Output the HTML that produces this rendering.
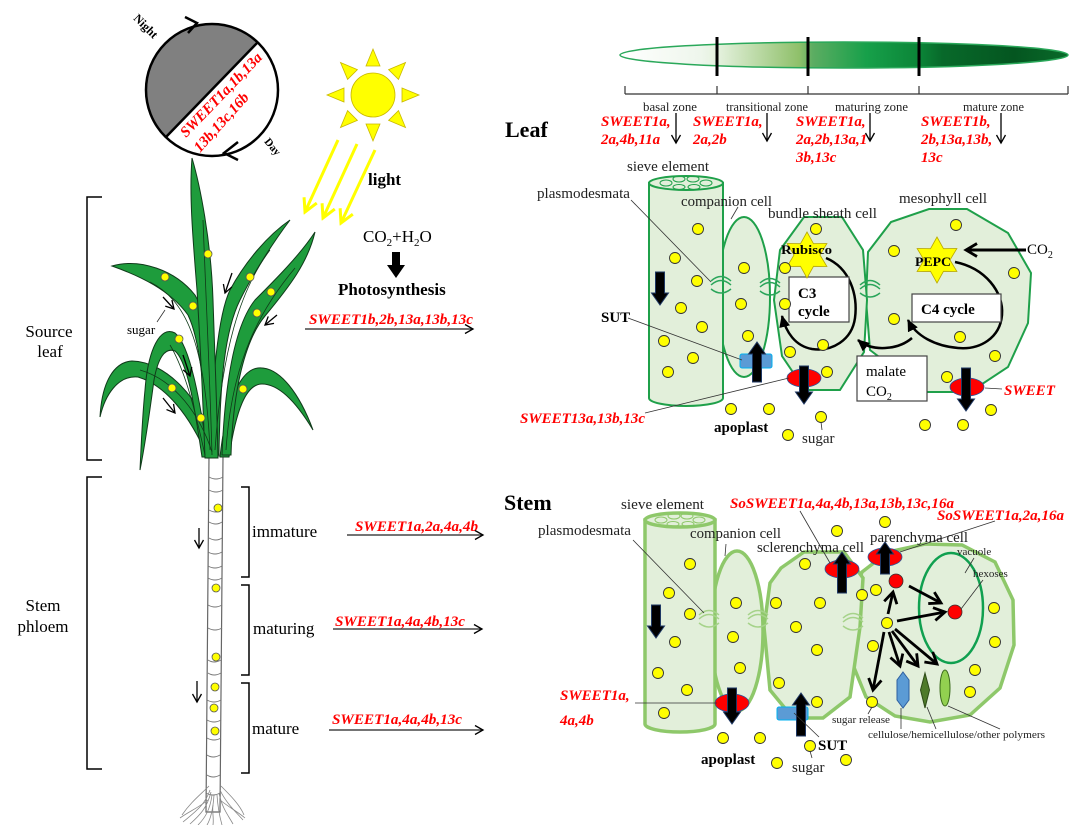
<!DOCTYPE html>
<html><head><meta charset="utf-8"><style>
html,body{margin:0;padding:0;background:#fff;}
svg{display:block;font-family:"Liberation Serif",serif;}
</style></head><body>
<svg width="1080" height="825" viewBox="0 0 1080 825" xmlns="http://www.w3.org/2000/svg">
<defs>
<marker id="mo" markerUnits="userSpaceOnUse" markerWidth="12" markerHeight="12" refX="10" refY="6" orient="auto"><path d="M2,1.5 L10,6 L2,10.5" fill="none" stroke="#000" stroke-width="1.3"/></marker>
<marker id="my" markerUnits="userSpaceOnUse" markerWidth="18" markerHeight="18" refX="15" refY="9" orient="auto"><path d="M2,2 L15,9 L2,16" fill="none" stroke="#ffff00" stroke-width="3"/></marker>
<marker id="mb" markerUnits="userSpaceOnUse" markerWidth="16" markerHeight="16" refX="13" refY="8" orient="auto"><path d="M2,1.5 L13,8 L2,14.5" fill="none" stroke="#000" stroke-width="2.8"/></marker>
<marker id="mf" markerUnits="userSpaceOnUse" markerWidth="14" markerHeight="14" refX="11" refY="7" orient="auto"><path d="M0,1.5 L12,7 L0,12.5 Z" fill="#000"/></marker>
<linearGradient id="lg" gradientUnits="userSpaceOnUse" x1="620" y1="0" x2="1068" y2="0">
<stop offset="0" stop-color="#ffffff"/><stop offset="0.18" stop-color="#eef6ec"/><stop offset="0.22" stop-color="#e4f1dd"/><stop offset="0.4" stop-color="#8fc06a"/><stop offset="0.43" stop-color="#5cad62"/><stop offset="0.55" stop-color="#17a04a"/><stop offset="0.67" stop-color="#0b8437"/><stop offset="0.72" stop-color="#08692a"/><stop offset="0.88" stop-color="#045620"/><stop offset="1" stop-color="#0a6a2a"/>
</linearGradient>
</defs>

<!-- ================= LEFT: day/night circle ================= -->
<circle cx="212" cy="90" r="66" fill="#fff"/>
<path d="M258,42 A66,66 0 0,0 166,137 Z" fill="#808080"/>
<line x1="258" y1="42" x2="166" y2="137" stroke="#000" stroke-width="2.5"/>
<circle cx="212" cy="90" r="66" fill="none" stroke="#000" stroke-width="2.5"/>
<path d="M185,17 L197,23 L188,33" fill="none" stroke="#000" stroke-width="2.5"/>
<path d="M238,142 L224,153 L238,160" fill="none" stroke="#000" stroke-width="2.5"/>
<text transform="translate(143,29) rotate(45)" text-anchor="middle" font-size="12" font-weight="bold">Night</text>
<text transform="translate(270,149) rotate(50)" text-anchor="middle" font-size="11" font-weight="bold">Day</text>
<g fill="#ff0000" font-size="15" font-weight="bold" font-style="italic">
<text transform="translate(186,138) rotate(-46)">SWEET1a,1b,13a</text>
<text transform="translate(200,153) rotate(-48)">13b,13c,16b</text>
</g>

<!-- sun -->
<g fill="#ffff00" stroke="#c9b800" stroke-width="0.8">
<polygon points="373,49 366,66 380,66"/>
<polygon points="373,141 366,124 380,124"/>
<polygon points="419,95 402,88 402,102"/>
<polygon points="327,95 344,88 344,102"/>
<polygon points="405.5,62.5 398.5,79.4 388.6,69.6"/>
<polygon points="405.5,127.5 388.6,120.4 398.5,110.6"/>
<polygon points="340.5,127.5 357.4,120.4 347.6,110.6"/>
<polygon points="340.5,62.5 347.6,79.4 357.4,69.6"/>
<circle cx="373" cy="95" r="22"/>
</g>
<g stroke="#ffff00" stroke-width="3">
<line x1="338" y1="140" x2="305" y2="212" marker-end="url(#my)"/>
<line x1="357" y1="144" x2="323" y2="218" marker-end="url(#my)"/>
<line x1="375" y1="150" x2="341" y2="223" marker-end="url(#my)"/>
</g>
<text x="368" y="185" font-size="17" font-weight="bold">light</text>
<text x="363" y="242" font-size="17">CO<tspan font-size="11" dy="4">2</tspan><tspan dy="-4">+H</tspan><tspan font-size="11" dy="4">2</tspan><tspan dy="-4">O</tspan></text>
<path d="M392,252 H400 V265 H405 L396,278 L387,265 H392 Z" fill="#000"/>
<text x="338" y="295" font-size="17" font-weight="bold">Photosynthesis</text>

<!-- source leaf label/arrow -->
<text x="309" y="324" font-size="15" font-weight="bold" font-style="italic" fill="#ff0000" textLength="164" lengthAdjust="spacingAndGlyphs">SWEET1b,2b,13a,13b,13c</text>
<line x1="305" y1="329" x2="473" y2="329" stroke="#222" stroke-width="1.3" marker-end="url(#mo)"/>

<!-- brackets -->
<g fill="none" stroke="#000" stroke-width="1.5">
<path d="M102,197 H87 V460 H102"/>
<path d="M102,477 H87 V769 H102"/>
<path d="M241,487 H249 V577 H241"/>
<path d="M241,585 H249 V675 H241"/>
<path d="M241,683 H249 V773 H241"/>
</g>
<g font-size="17" text-anchor="middle">
<text x="49" y="337">Source</text>
<text x="50" y="357">leaf</text>
<text x="43" y="611">Stem</text>
<text x="43" y="632">phloem</text>
</g>
<g font-size="17">
<text x="252" y="537">immature</text>
<text x="253" y="634">maturing</text>
<text x="252" y="734">mature</text>
</g>
<g font-size="15" font-weight="bold" font-style="italic" fill="#ff0000">
<text x="355" y="531" textLength="123" lengthAdjust="spacingAndGlyphs">SWEET1a,2a,4a,4b</text>
<text x="335" y="626" textLength="130" lengthAdjust="spacingAndGlyphs">SWEET1a,4a,4b,13c</text>
<text x="332" y="724" textLength="130" lengthAdjust="spacingAndGlyphs">SWEET1a,4a,4b,13c</text>
</g>
<g stroke="#222" stroke-width="1.3">
<line x1="347" y1="535" x2="483" y2="535" marker-end="url(#mo)"/>
<line x1="333" y1="629" x2="482" y2="629" marker-end="url(#mo)"/>
<line x1="329" y1="730" x2="483" y2="730" marker-end="url(#mo)"/>
</g>

<!-- stem of plant -->
<path d="M209,456 L223,456 L220,812 L206,812 Z" fill="#fff" stroke="#666" stroke-width="1.2"/>
<g fill="none" stroke="#777" stroke-width="1">
<path d="M209,477 Q216,481 223,477"/><path d="M209,490 Q216,494 223,490"/><path d="M209,510 Q216,514 222,510"/>
<path d="M209,522 Q216,526 222,522"/><path d="M209,538 Q216,542 222,538"/><path d="M208,552 Q215,556 222,552"/>
<path d="M208,566 Q215,570 222,566"/><path d="M208,578 Q215,582 222,578"/><path d="M208,605 Q215,609 222,605"/>
<path d="M208,628 Q215,632 222,628"/><path d="M208,660 Q214,664 221,660"/><path d="M208,673 Q214,677 221,673"/>
<path d="M207,700 Q214,704 221,700"/><path d="M207,720 Q214,724 221,720"/><path d="M207,738 Q214,742 221,738"/>
<path d="M207,755 Q213,759 220,755"/><path d="M207,775 Q213,779 220,775"/><path d="M206,793 Q213,797 220,793"/>
</g>
<g fill="none" stroke="#888" stroke-width="0.8">
<path d="M210,790 C205,805 195,812 183,822"/><path d="M211,792 C207,808 200,815 190,824"/>
<path d="M212,795 C210,810 205,818 198,825"/><path d="M214,795 C213,810 210,820 207,825"/>
<path d="M217,795 C218,810 220,818 222,825"/><path d="M219,793 C222,808 228,815 233,824"/>
<path d="M220,790 C226,803 236,812 243,820"/><path d="M209,786 C200,795 190,803 182,815"/>
<path d="M221,786 C230,795 240,805 244,815"/><path d="M208,800 C198,808 188,812 180,818"/>
<path d="M220,800 C230,808 238,812 245,818"/><path d="M213,805 C212,812 214,818 213,825"/>
</g>
<g fill="#ffff00" stroke="#555" stroke-width="0.8">
<circle cx="218" cy="508" r="4"/><circle cx="216" cy="588" r="4"/><circle cx="216" cy="657" r="4"/>
<circle cx="215" cy="687" r="4"/><circle cx="214" cy="708" r="4"/><circle cx="215" cy="731" r="4"/>
</g>
<g stroke="#000" stroke-width="1.3">
<line x1="199" y1="528" x2="199" y2="548" marker-end="url(#mo)"/>
<line x1="197" y1="681" x2="197" y2="702" marker-end="url(#mo)"/>
</g>

<!-- leaves -->
<g fill="#1e9c3c" stroke="#103a1a" stroke-width="1">
<path d="M100,417 C102,380 115,362 132,361 C165,362 200,395 218,452 L208,458 C190,415 165,385 138,377 C118,375 105,395 100,417 Z"/>
<path d="M220,457 C225,410 238,370 258,368 C280,366 300,395 313,430 C298,405 280,384 262,384 C246,384 236,410 229,457 Z"/>
<path d="M208,457 C200,400 190,345 175,333 C160,325 148,350 145,390 C142,420 141,450 140,470 C146,440 150,410 154,380 C158,358 165,347 175,351 C188,362 195,410 202,457 Z"/>
<path d="M112,266 C140,258 175,270 195,295 C210,320 213,380 214,455 L207,455 C205,390 200,340 188,315 C170,290 140,276 112,266 Z"/>
<path d="M315,232 C300,255 275,280 255,300 C235,325 225,380 222,455 L231,455 C233,390 245,340 265,316 C290,286 308,262 315,232 Z"/>
<path d="M290,220 C268,235 245,262 230,290 C218,315 212,380 210,455 L219,455 C220,380 225,330 240,300 C255,270 275,240 290,220 Z"/>
<path d="M192,158 C200,185 211,240 213,300 C215,360 217,410 218,458 L205,458 C203,400 200,340 197,290 C193,240 189,195 192,158 Z"/>
</g>
<g fill="none" stroke="#0f3a18" stroke-width="0.8">
<path d="M203,220 C206,300 210,380 212,455"/>
<path d="M150,282 C185,300 205,340 210,450"/>
<path d="M270,250 C240,290 222,350 215,450"/>
<path d="M295,268 C260,310 232,360 226,450"/>
<path d="M140,370 C175,380 200,415 212,452"/>
<path d="M170,345 C185,370 195,410 205,455"/>
</g>
<g fill="#ffff00" stroke="#555" stroke-width="0.8">
<circle cx="208" cy="254" r="4"/><circle cx="165" cy="277" r="4"/><circle cx="193" cy="306" r="4"/>
<circle cx="250" cy="277" r="4"/><circle cx="271" cy="292" r="4"/><circle cx="257" cy="313" r="4"/>
<circle cx="179" cy="339" r="4"/><circle cx="172" cy="388" r="4"/><circle cx="201" cy="418" r="4"/>
<circle cx="243" cy="389" r="4"/>
</g>
<g stroke="#000" stroke-width="1.3">
<line x1="163" y1="297" x2="174" y2="309" marker-end="url(#mo)"/>
<line x1="232" y1="273" x2="225" y2="293" marker-end="url(#mo)"/>
<line x1="277" y1="315" x2="265" y2="325" marker-end="url(#mo)"/>
<line x1="183" y1="355" x2="190" y2="376" marker-end="url(#mo)"/>
<line x1="163" y1="398" x2="175" y2="413" marker-end="url(#mo)"/>
</g>
<line x1="157" y1="322" x2="165" y2="310" stroke="#333" stroke-width="0.8"/>
<text x="127" y="334" font-size="13">sugar</text>

<!-- ================= TOP RIGHT: leaf zones ================= -->
<ellipse cx="844" cy="55" rx="224" ry="13" fill="url(#lg)" stroke="#2aa85a" stroke-width="1.5"/>
<g stroke="#000" stroke-width="3">
<line x1="717" y1="37" x2="717" y2="76"/><line x1="808" y1="37" x2="808" y2="76"/><line x1="919" y1="37" x2="919" y2="76"/>
</g>
<g stroke="#333" stroke-width="1.2" fill="none">
<line x1="625" y1="94" x2="1068" y2="94"/>
<line x1="625" y1="86" x2="625" y2="94"/><line x1="717" y1="86" x2="717" y2="94"/><line x1="808" y1="86" x2="808" y2="94"/>
<line x1="919" y1="86" x2="919" y2="94"/><line x1="1068" y1="86" x2="1068" y2="94"/>
</g>
<g font-size="12.5" fill="#222">
<text x="643" y="111" textLength="54" lengthAdjust="spacingAndGlyphs">basal zone</text>
<text x="726" y="111" textLength="82" lengthAdjust="spacingAndGlyphs">transitional zone</text>
<text x="835" y="111" textLength="73" lengthAdjust="spacingAndGlyphs">maturing zone</text>
<text x="963" y="111" textLength="61" lengthAdjust="spacingAndGlyphs">mature zone</text>
</g>
<text x="505" y="137" font-size="22" font-weight="bold">Leaf</text>
<g font-size="15" font-weight="bold" font-style="italic" fill="#ff0000">
<text x="601" y="126">SWEET1a,</text><text x="601" y="144">2a,4b,11a</text>
<text x="693" y="126">SWEET1a,</text><text x="693" y="144">2a,2b</text>
<text x="796" y="126">SWEET1a,</text><text x="796" y="144">2a,2b,13a,1</text><text x="796" y="162">3b,13c</text>
<text x="921" y="126">SWEET1b,</text><text x="921" y="144">2b,13a,13b,</text><text x="921" y="162">13c</text>
</g>
<g stroke="#000" stroke-width="1.3">
<line x1="676" y1="113" x2="676" y2="143" marker-end="url(#mo)"/>
<line x1="767" y1="113" x2="767" y2="141" marker-end="url(#mo)"/>
<line x1="870" y1="113" x2="870" y2="141" marker-end="url(#mo)"/>
<line x1="1001" y1="113" x2="1001" y2="143" marker-end="url(#mo)"/>
</g>

<!-- ================= LEAF CELL DIAGRAM ================= -->
<g fill="#e2efda" stroke="#1fa04a" stroke-width="2">
<polygon points="868,252 891,222 929,209 967,209 1008,233 1031,273 1028,323 1008,367 970,392 925,392 870,350 866,300"/>
<polygon points="804,217 842,217 863,250 867,300 864,352 840,390 805,390 782,356 774,300 780,250"/>
<ellipse cx="744" cy="297" rx="26" ry="80"/>
<path d="M649,183 V398 A37,8 0 0,0 723,398 V183 Z"/>
<ellipse cx="686" cy="183" rx="37" ry="7"/>
</g>
<g fill="none" stroke="#1fa04a" stroke-width="1">
<ellipse cx="666" cy="183" rx="6" ry="3"/><ellipse cx="679" cy="179" rx="6" ry="3"/><ellipse cx="693" cy="179" rx="6" ry="3"/>
<ellipse cx="706" cy="183" rx="6" ry="3"/><ellipse cx="679" cy="187" rx="6" ry="2.5"/><ellipse cx="694" cy="187" rx="6" ry="2.5"/>
</g>
<!-- plasmodesmata -->
<g fill="none" stroke="#2aa55a" stroke-width="1.5">
<path d="M711,281 Q721,272 731,281 M711,285 Q721,276 731,285 M711,289 Q721,297 731,289"/>
<path d="M760,283 Q770,274 780,283 M760,287 Q770,278 780,287 M760,291 Q770,299 780,291"/>
<path d="M860,285 Q870,276 880,285 M860,289 Q870,280 880,289 M860,293 Q870,301 880,293"/>
</g>
<!-- loops -->
<g fill="none" stroke="#000" stroke-width="2.5">
<path d="M826,258 C850,268 858,295 855,318 C852,340 832,352 812,349 C795,346 786,332 782,316" marker-end="url(#mf)"/>
<path d="M955,262 C985,268 1004,292 1002,315 C1000,338 980,350 958,348 C935,346 916,336 908,320" marker-end="url(#mf)"/>
<path d="M912,338 C898,350 872,352 858,340" marker-end="url(#mf)"/>
</g>
<line x1="1026" y1="250" x2="966" y2="250" stroke="#000" stroke-width="3" marker-end="url(#mb)"/>
<g fill="#fff" stroke="#444" stroke-width="1.2">
<rect x="789" y="277" width="60" height="45"/>
<rect x="912" y="294" width="89" height="28"/>
<rect x="857" y="356" width="70" height="45"/>
</g>
<g fill="#ffff00" stroke="#b8a800" stroke-width="0.8">
<polygon points="807,232 813.5,243.7 826.9,243.5 820,255 826.9,266.5 813.5,266.3 807,278 800.5,266.3 787.1,266.5 794,255 787.1,243.5 800.5,243.7"/>
<polygon points="937,237 943.5,248.7 956.9,248.5 950,260 956.9,271.5 943.5,271.3 937,283 930.5,271.3 917.1,271.5 924,260 917.1,248.5 930.5,248.7"/>
</g>
<g font-weight="bold" font-size="13">
<text x="781" y="254" textLength="51" lengthAdjust="spacingAndGlyphs">Rubisco</text>
<text x="915" y="266" textLength="36" lengthAdjust="spacingAndGlyphs">PEPC</text>
</g>
<g font-weight="bold" font-size="15">
<text x="798" y="298">C3</text><text x="798" y="316">cycle</text>
<text x="921" y="314">C4 cycle</text>
</g>
<text x="866" y="376" font-size="15">malate</text>
<text x="866" y="396" font-size="15">CO<tspan font-size="10" dy="4">2</tspan></text>
<text x="1027" y="254" font-size="15">CO<tspan font-size="10" dy="4">2</tspan></text>
<!-- transporters leaf -->
<rect x="740" y="354" width="32" height="14" rx="2" fill="#5b9bd5" stroke="#00b0f0" stroke-width="1"/>
<ellipse cx="804" cy="378" rx="17" ry="9" fill="#ff0000" stroke="#2f5597" stroke-width="0.8"/>
<ellipse cx="967" cy="387" rx="17" ry="9" fill="#ff0000" stroke="#2f5597" stroke-width="0.8"/>
<g fill="#000" stroke="#1f3864" stroke-width="1">
<path d="M655.5,272 H664.5 V293 H668.5 L660,305 L651.5,293 H655.5 Z"/>
<path d="M752.5,382 H761.5 V354 H765.5 L757,342 L748.5,354 H752.5 Z"/>
<path d="M799.5,366 H808.5 V392 H812.5 L804,404 L795.5,392 H799.5 Z"/>
<path d="M961.5,368 H970.5 V399 H974.5 L966,411 L957.5,399 H961.5 Z"/>
</g>
<!-- leaf dots -->
<g fill="#ffff00" stroke="#333" stroke-width="0.9">
<circle cx="698" cy="229" r="5.5"/><circle cx="675" cy="258" r="5.5"/><circle cx="697" cy="281" r="5.5"/><circle cx="681" cy="308" r="5.5"/>
<circle cx="702" cy="327" r="5.5"/><circle cx="664" cy="341" r="5.5"/><circle cx="693" cy="358" r="5.5"/><circle cx="668" cy="372" r="5.5"/>
<circle cx="744" cy="268" r="5.5"/><circle cx="741" cy="304" r="5.5"/><circle cx="748" cy="336" r="5.5"/>
<circle cx="816" cy="229" r="5.5"/><circle cx="785" cy="268" r="5.5"/><circle cx="785" cy="304" r="5.5"/>
<circle cx="823" cy="345" r="5.5"/><circle cx="790" cy="352" r="5.5"/><circle cx="827" cy="372" r="5.5"/>
<circle cx="956" cy="225" r="5.5"/><circle cx="894" cy="251" r="5.5"/><circle cx="1014" cy="273" r="5.5"/>
<circle cx="894" cy="319" r="5.5"/><circle cx="960" cy="337" r="5.5"/><circle cx="995" cy="356" r="5.5"/><circle cx="947" cy="377" r="5.5"/>
<circle cx="731" cy="409" r="5.5"/><circle cx="769" cy="409" r="5.5"/><circle cx="821" cy="417" r="5.5"/><circle cx="788" cy="435" r="5.5"/>
<circle cx="925" cy="425" r="5.5"/><circle cx="963" cy="425" r="5.5"/><circle cx="991" cy="410" r="5.5"/>
</g>
<!-- leaf labels -->
<g stroke="#333" stroke-width="0.8">
<line x1="631" y1="200" x2="711" y2="282"/>
<line x1="738" y1="207" x2="731" y2="219"/>
<line x1="628" y1="318" x2="742" y2="360"/>
<line x1="645" y1="413" x2="789" y2="378"/>
<line x1="985" y1="388" x2="1002" y2="389"/>
<line x1="822" y1="430" x2="821" y2="422"/>
</g>
<g font-size="15" fill="#222">
<text x="627" y="171" textLength="82" lengthAdjust="spacingAndGlyphs">sieve element</text>
<text x="537" y="198" textLength="93" lengthAdjust="spacingAndGlyphs">plasmodesmata</text>
<text x="681" y="206" textLength="91" lengthAdjust="spacingAndGlyphs">companion cell</text>
<text x="768" y="218" textLength="109" lengthAdjust="spacingAndGlyphs">bundle sheath cell</text>
<text x="899" y="203" textLength="88" lengthAdjust="spacingAndGlyphs">mesophyll cell</text>
<text x="802" y="443">sugar</text>
</g>
<text x="601" y="322" font-size="15" font-weight="bold">SUT</text>
<text x="714" y="432" font-size="15" font-weight="bold">apoplast</text>
<g font-size="15" font-weight="bold" font-style="italic" fill="#ff0000">
<text x="1004" y="395">SWEET</text>
<text x="520" y="423" textLength="125" lengthAdjust="spacingAndGlyphs">SWEET13a,13b,13c</text>
</g>

<!-- ================= STEM CELL DIAGRAM ================= -->
<text x="504" y="510" font-size="22" font-weight="bold">Stem</text>
<g fill="#e2efda" stroke="#8ec86a" stroke-width="3.5">
<polygon points="853,600 862,572 888,552 925,544 962,545 995,562 1013,600 1014,645 1000,688 970,715 930,722 895,716 866,697 853,665"/>
<polygon points="781,568 804,552 844,552 863,578 860,627 850,697 823,718 793,718 770,690 764,627 770,583"/>
<ellipse cx="737" cy="631" rx="26" ry="80"/>
<path d="M645,520 V724 A35,8 0 0,0 715,724 V520 Z"/>
<ellipse cx="680" cy="520" rx="35" ry="7"/>
</g>
<g fill="none" stroke="#8ec86a" stroke-width="1">
<ellipse cx="661" cy="520" rx="6" ry="3"/><ellipse cx="674" cy="516" rx="6" ry="3"/><ellipse cx="687" cy="516" rx="6" ry="3"/>
<ellipse cx="699" cy="520" rx="6" ry="3"/><ellipse cx="673" cy="524" rx="6" ry="2.5"/><ellipse cx="688" cy="524" rx="6" ry="2.5"/>
</g>
<ellipse cx="951" cy="608" rx="32" ry="55" fill="none" stroke="#10a050" stroke-width="2.5"/>
<g fill="none" stroke="#a6d38a" stroke-width="1.5">
<path d="M699,615 Q709,606 719,615 M699,619 Q709,610 719,619 M699,623 Q709,631 719,623"/>
<path d="M748,615 Q758,606 768,615 M748,619 Q758,610 768,619 M748,623 Q758,631 768,623"/>
<path d="M843,618 Q853,609 863,618 M843,622 Q853,613 863,622 M843,626 Q853,634 863,626"/>
</g>
<!-- polymers -->
<polygon points="903,672 909,680 909,700 903,708 897,700 897,680" fill="#5b9bd5" stroke="#2e5fa0" stroke-width="1"/>
<polygon points="925,673 929.5,690 925,708 920.5,690" fill="#4e7a2a" stroke="#2d4a17" stroke-width="1"/>
<ellipse cx="945" cy="688" rx="5" ry="18" fill="#92d050" stroke="#3a6a1a" stroke-width="1"/>
<!-- transporters stem -->
<ellipse cx="732" cy="703" rx="17" ry="9" fill="#ff0000" stroke="#2f5597" stroke-width="0.8"/>
<ellipse cx="842" cy="569" rx="17" ry="9" fill="#ff0000" stroke="#2f5597" stroke-width="0.8"/>
<ellipse cx="885" cy="557" rx="17" ry="9" fill="#ff0000" stroke="#2f5597" stroke-width="0.8"/>
<rect x="777" y="707" width="31" height="13" rx="2" fill="#5b9bd5" stroke="#00b0f0" stroke-width="1"/>
<g fill="#000" stroke="#1f3864" stroke-width="1">
<path d="M651.5,605 H660.5 V626 H664.5 L656,638 L647.5,626 H651.5 Z"/>
<path d="M727.5,688 H736.5 V712 H740.5 L732,724 L723.5,712 H727.5 Z"/>
<path d="M796.5,736 H805.5 V705 H809.5 L801,693 L792.5,705 H796.5 Z"/>
<path d="M837.5,593 H846.5 V564 H850.5 L842,552 L833.5,564 H837.5 Z"/>
<path d="M880.5,574 H889.5 V554 H893.5 L885,542 L876.5,554 H880.5 Z"/>
</g>
<!-- paren arrows -->
<g stroke="#000" stroke-width="2.8">
<line x1="888" y1="614" x2="893" y2="592" marker-end="url(#mb)"/>
<line x1="909" y1="586" x2="941" y2="603" marker-end="url(#mb)"/>
<line x1="897" y1="621" x2="945" y2="612" marker-end="url(#mb)"/>
<line x1="884" y1="632" x2="873" y2="690" marker-end="url(#mb)"/>
<line x1="889" y1="632" x2="900" y2="666" marker-end="url(#mb)"/>
<line x1="892" y1="631" x2="918" y2="666" marker-end="url(#mb)"/>
<line x1="895" y1="629" x2="937" y2="664" marker-end="url(#mb)"/>
</g>
<circle cx="896" cy="581" r="7" fill="#ff0000" stroke="#333" stroke-width="0.8"/>
<circle cx="955" cy="612" r="7" fill="#ff0000" stroke="#333" stroke-width="0.8"/>
<!-- stem dots -->
<g fill="#ffff00" stroke="#333" stroke-width="0.9">
<circle cx="690" cy="564" r="5.5"/><circle cx="669" cy="593" r="5.5"/><circle cx="690" cy="614" r="5.5"/><circle cx="675" cy="642" r="5.5"/>
<circle cx="658" cy="673" r="5.5"/><circle cx="687" cy="690" r="5.5"/><circle cx="664" cy="713" r="5.5"/>
<circle cx="736" cy="603" r="5.5"/><circle cx="733" cy="637" r="5.5"/><circle cx="740" cy="668" r="5.5"/>
<circle cx="805" cy="564" r="5.5"/><circle cx="776" cy="603" r="5.5"/><circle cx="820" cy="603" r="5.5"/><circle cx="796" cy="627" r="5.5"/>
<circle cx="817" cy="650" r="5.5"/><circle cx="779" cy="683" r="5.5"/><circle cx="817" cy="702" r="5.5"/>
<circle cx="862" cy="595" r="5.5"/><circle cx="876" cy="590" r="5.5"/><circle cx="873" cy="646" r="5.5"/>
<circle cx="994" cy="608" r="5.5"/><circle cx="995" cy="642" r="5.5"/><circle cx="975" cy="670" r="5.5"/><circle cx="970" cy="692" r="5.5"/>
<circle cx="887" cy="623" r="5.5"/><circle cx="872" cy="702" r="5.5"/>
<circle cx="837" cy="531" r="5.5"/><circle cx="885" cy="522" r="5.5"/>
<circle cx="723" cy="738" r="5.5"/><circle cx="760" cy="738" r="5.5"/><circle cx="810" cy="746" r="5.5"/>
<circle cx="777" cy="763" r="5.5"/><circle cx="846" cy="760" r="5.5"/>
</g>
<!-- stem leaders -->
<g stroke="#333" stroke-width="0.8">
<line x1="633" y1="540" x2="704" y2="613"/>
<line x1="726" y1="544" x2="725" y2="556"/>
<line x1="800" y1="511" x2="830" y2="563"/>
<line x1="995" y1="521" x2="900" y2="552"/>
<line x1="635" y1="703" x2="717" y2="703"/>
<line x1="794" y1="713" x2="819" y2="737"/>
<line x1="812" y1="758" x2="810" y2="751"/>
<line x1="974" y1="558" x2="965" y2="573"/>
<line x1="983" y1="580" x2="961" y2="609"/>
<line x1="872" y1="707" x2="868" y2="714"/>
<line x1="901" y1="708" x2="901" y2="729"/>
<line x1="927" y1="707" x2="936" y2="729"/>
<line x1="948" y1="706" x2="1000" y2="729"/>
</g>
<g font-size="15" fill="#222">
<text x="621" y="509" textLength="83" lengthAdjust="spacingAndGlyphs">sieve element</text>
<text x="538" y="535" textLength="93" lengthAdjust="spacingAndGlyphs">plasmodesmata</text>
<text x="690" y="538" textLength="91" lengthAdjust="spacingAndGlyphs">companion cell</text>
<text x="757" y="552" textLength="107" lengthAdjust="spacingAndGlyphs">sclerenchyma cell</text>
<text x="870" y="542" textLength="98" lengthAdjust="spacingAndGlyphs">parenchyma cell</text>
<text x="792" y="772">sugar</text>
</g>
<g font-size="11" fill="#222">
<text x="957" y="555">vacuole</text>
<text x="973" y="577">hexoses</text>
<text x="832" y="723" textLength="58" lengthAdjust="spacingAndGlyphs">sugar release</text>
<text x="868" y="738" textLength="177" lengthAdjust="spacingAndGlyphs">cellulose/hemicellulose/other polymers</text>
</g>
<text x="818" y="750" font-size="15" font-weight="bold">SUT</text>
<text x="701" y="764" font-size="15" font-weight="bold">apoplast</text>
<g font-size="15" font-weight="bold" font-style="italic" fill="#ff0000">
<text x="730" y="508" textLength="224" lengthAdjust="spacingAndGlyphs">SoSWEET1a,4a,4b,13a,13b,13c,16a</text>
<text x="937" y="520" textLength="127" lengthAdjust="spacingAndGlyphs">SoSWEET1a,2a,16a</text>
<text x="560" y="700">SWEET1a,</text>
<text x="560" y="725">4a,4b</text>
</g>
</svg>
</body></html>
